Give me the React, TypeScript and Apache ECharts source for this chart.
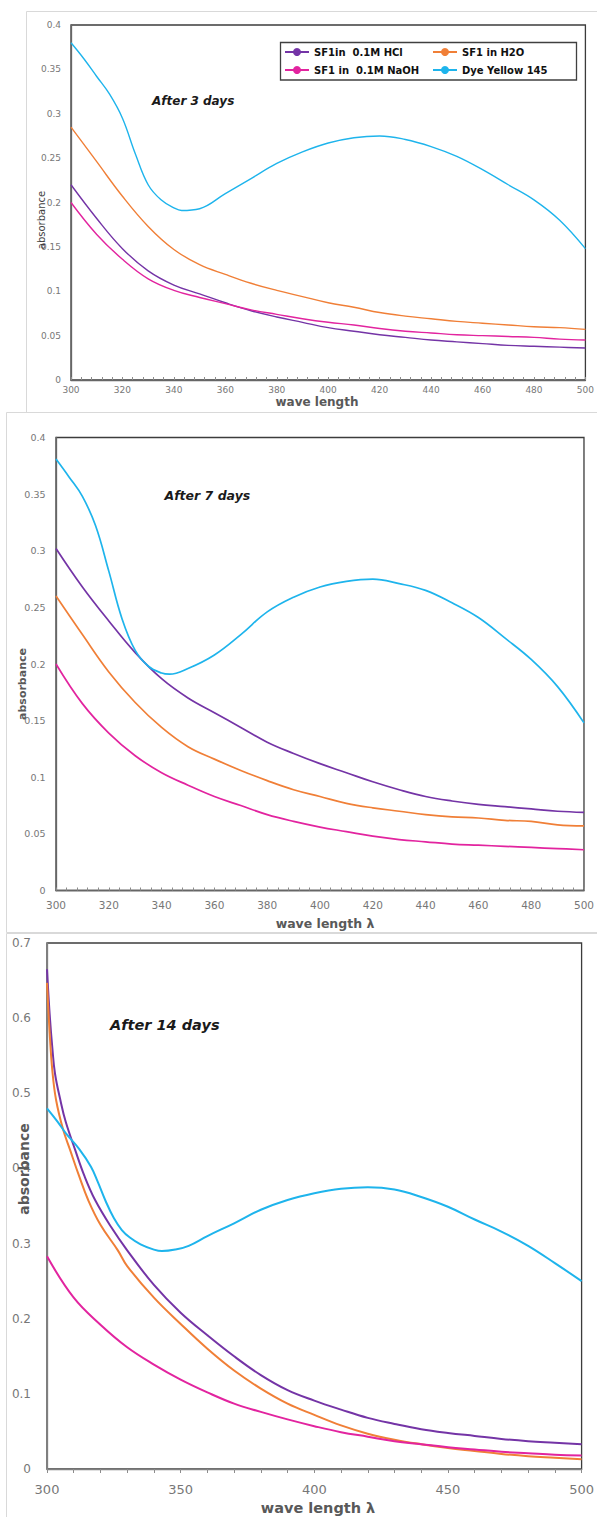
import React, { useEffect, useRef } from "react";
import * as echarts from "echarts";

// ---------- names / colours ----------
const NAMES = ["SF1in  0.1M HCl", "SF1 in H2O", "SF1 in  0.1M NaOH", "Dye Yellow 145"];
const COLORS = ["#7434A6", "#F07F37", "#E2249F", "#1EB4EC"];

// ---------- common wavelengths ----------
const WL10 = [300, 310, 320, 330, 340, 350, 360, 370, 380, 390, 400, 410, 420, 430, 440, 450, 460, 470, 480, 490, 500];
const WL_DYE = [300, 305, 310, 315, 320, 325, 330, 335, 340, 343, 350, 360, 370, 380, 390, 400, 410, 420, 430, 440, 450, 460, 470, 480, 490, 500];

// ---------- After 3 days ----------
const P1_HCL = [0.220, 0.182, 0.148, 0.123, 0.107, 0.097, 0.087, 0.078, 0.071, 0.065, 0.059, 0.055, 0.051, 0.048, 0.045, 0.043, 0.041, 0.039, 0.038, 0.037, 0.036];
const P1_H2O = [0.285, 0.246, 0.207, 0.173, 0.147, 0.130, 0.119, 0.109, 0.101, 0.094, 0.087, 0.082, 0.076, 0.072, 0.069, 0.066, 0.064, 0.062, 0.060, 0.059, 0.057];
const P1_NAOH = [0.200, 0.164, 0.136, 0.114, 0.101, 0.093, 0.086, 0.079, 0.074, 0.069, 0.065, 0.062, 0.058, 0.055, 0.053, 0.051, 0.050, 0.049, 0.048, 0.046, 0.045];
const P1_DYE = [0.380, 0.362, 0.342, 0.322, 0.295, 0.255, 0.220, 0.203, 0.194, 0.191, 0.193, 0.210, 0.227, 0.244, 0.257, 0.267, 0.273, 0.275, 0.271, 0.263, 0.252, 0.237, 0.220, 0.203, 0.180, 0.148];

// ---------- After 7 days ----------
const P2_HCL = [0.302, 0.268, 0.238, 0.210, 0.187, 0.170, 0.157, 0.144, 0.131, 0.121, 0.112, 0.104, 0.096, 0.089, 0.083, 0.079, 0.076, 0.074, 0.072, 0.070, 0.069];
const P2_H2O = [0.260, 0.226, 0.193, 0.166, 0.144, 0.127, 0.116, 0.106, 0.097, 0.089, 0.083, 0.077, 0.073, 0.070, 0.067, 0.065, 0.064, 0.062, 0.061, 0.058, 0.057];
const P2_NAOH = [0.200, 0.165, 0.139, 0.119, 0.104, 0.093, 0.083, 0.075, 0.067, 0.061, 0.056, 0.052, 0.048, 0.045, 0.043, 0.041, 0.040, 0.039, 0.038, 0.037, 0.036];
const P2_DYE = [0.381, 0.365, 0.348, 0.322, 0.282, 0.240, 0.212, 0.198, 0.192, 0.191, 0.196, 0.208, 0.226, 0.246, 0.259, 0.268, 0.273, 0.275, 0.271, 0.265, 0.254, 0.241, 0.223, 0.204, 0.180, 0.148];

// ---------- After 14 days ----------
const P3_HCL_WL = [300, 301, 302, 303, 305, 307, 310.5, 314, 318, 324, 330, 340, 350, 360, 370, 380, 390, 400, 410, 420, 430, 440, 450, 460, 470, 480, 490, 500];
const P3_HCL = [0.665, 0.605, 0.560, 0.526, 0.491, 0.462, 0.425, 0.390, 0.358, 0.322, 0.291, 0.245, 0.208, 0.178, 0.150, 0.125, 0.105, 0.091, 0.079, 0.068, 0.060, 0.053, 0.048, 0.044, 0.040, 0.037, 0.035, 0.033];
const P3_H2O_WL = [300, 301, 302, 303.4, 306, 308.6, 312, 315.4, 320, 326.5, 330, 340, 350, 360, 370, 380, 390, 400, 410, 420, 430, 440, 450, 460, 470, 480, 490, 500];
const P3_H2O = [0.647, 0.580, 0.530, 0.491, 0.452, 0.425, 0.390, 0.358, 0.325, 0.291, 0.270, 0.228, 0.193, 0.160, 0.131, 0.107, 0.087, 0.072, 0.058, 0.047, 0.039, 0.033, 0.028, 0.024, 0.020, 0.017, 0.015, 0.013];
const P3_NAOH = [0.283, 0.228, 0.192, 0.162, 0.139, 0.119, 0.102, 0.087, 0.076, 0.066, 0.057, 0.049, 0.043, 0.037, 0.033, 0.029, 0.026, 0.023, 0.021, 0.019, 0.018];
const P3_DYE_WL = [300, 304, 307, 312, 316.5, 319, 322, 325, 328, 331, 335, 340, 343, 348, 353, 360, 370, 380, 390, 400, 410, 420, 430, 440, 450, 460, 470, 480, 490, 500];
const P3_DYE = [0.480, 0.462, 0.447, 0.426, 0.402, 0.382, 0.356, 0.334, 0.318, 0.308, 0.299, 0.292, 0.290, 0.292, 0.297, 0.310, 0.327, 0.345, 0.358, 0.367, 0.373, 0.375, 0.372, 0.362, 0.349, 0.332, 0.316, 0.297, 0.274, 0.250];

// ---------- axis ticks ----------
const P1_Y_MAX = 0.4;
const P1_Y_STEP = 0.05;
const P3_Y_MAX = 0.7;
const P3_Y_STEP = 0.1;
const X_MIN = 300;
const X_MAX = 500;
const P12_X_STEP = 20;
const P3_X_STEP = 50;

const TITLES = ["After 3 days", "After 7 days", "After 14 days"];
const X_TITLES = ["wave length", "wave length λ", "wave length λ"];
const Y_TITLE = "absorbance";

const FONT = "DejaVu Sans";

function zip(xs: number[], ys: number[]) {
  return xs.map((x, i) => [x, ys[i]]);
}

export default function App() {
  const ref = useRef<HTMLDivElement>(null);

  useEffect(() => {
    document.body.style.margin = "0";
    if (!ref.current) return;
    const chart = echarts.init(ref.current, null, { renderer: "svg" });

    const panels = [
      { hcl: zip(WL10, P1_HCL), h2o: zip(WL10, P1_H2O), naoh: zip(WL10, P1_NAOH), dye: zip(WL_DYE, P1_DYE), lw: 1.4 },
      { hcl: zip(WL10, P2_HCL), h2o: zip(WL10, P2_H2O), naoh: zip(WL10, P2_NAOH), dye: zip(WL_DYE, P2_DYE), lw: 1.7 },
      { hcl: zip(P3_HCL_WL, P3_HCL), h2o: zip(P3_H2O_WL, P3_H2O), naoh: zip(WL10, P3_NAOH), dye: zip(P3_DYE_WL, P3_DYE), lw: 2 },
    ];

    const series: any[] = [];
    panels.forEach((p, i) => {
      const sets = [p.hcl, p.h2o, p.naoh, p.dye];
      sets.forEach((d, k) => {
        series.push({
          type: "line",
          name: NAMES[k],
          xAxisIndex: i,
          yAxisIndex: i,
          data: d,
          symbol: "none",
          smooth: 0.4,
          lineStyle: { color: COLORS[k], width: p.lw },
          itemStyle: { color: COLORS[k] },
          z: 3,
        });
      });
    });

    const grids = [
      { left: 71, top: 25, width: 519, height: 355 },
      { left: 56, top: 437.5, width: 535, height: 453 },
      { left: 47, top: 943, width: 541, height: 526 },
    ].map((g) => ({ ...g, show: true, borderColor: "#3c3c3c", borderWidth: 1.3, backgroundColor: "transparent" }));

    const xLabel = [
      { fontSize: 9, margin: 5 },
      { fontSize: 10.5, margin: 9 },
      { fontSize: 13, margin: 13.5 },
    ];
    const yLabel = [
      { fontSize: 9, margin: 10 },
      { fontSize: 9.5, margin: 10.5 },
      { fontSize: 12, margin: 16 },
    ];

    const xAxis = [0, 1, 2].map((i) => ({
      type: "value",
      gridIndex: i,
      min: X_MIN,
      max: X_MAX,
      interval: i === 2 ? P3_X_STEP : P12_X_STEP,
      axisLine: { show: true, lineStyle: { color: i === 2 ? "#808080" : "#666", width: 1.3 } },
      axisTick: { show: true, inside: i !== 2, length: i === 2 ? 4 : 3, lineStyle: { color: "#8c8c8c" } },
      minorTick: { show: true, splitNumber: 5, length: i === 2 ? 4 : 3, lineStyle: { color: "#8c8c8c" } },
      splitLine: { show: false },
      minorSplitLine: { show: false },
      axisLabel: {
        color: "#777",
        fontFamily: FONT,
        fontSize: xLabel[i].fontSize,
        margin: xLabel[i].margin,
      },
    }));

    const yAxis = [0, 1, 2].map((i) => ({
      type: "value",
      gridIndex: i,
      min: 0,
      max: i === 2 ? P3_Y_MAX : P1_Y_MAX,
      interval: i === 2 ? P3_Y_STEP : P1_Y_STEP,
      axisLine: { show: true, lineStyle: { color: i === 2 ? "#808080" : "#666", width: 1.3 } },
      axisTick: { show: false },
      splitLine: { show: false },
      axisLabel: {
        color: "#777",
        fontFamily: FONT,
        fontSize: yLabel[i].fontSize,
        margin: yLabel[i].margin,
      },
    }));

    const legendPos = [
      { left: 284, top: 47 },
      { left: 432, top: 47 },
      { left: 284, top: 65 },
      { left: 432, top: 65 },
    ];
    const legend = NAMES.map((n, k) => ({
      data: [n],
      left: legendPos[k].left,
      top: legendPos[k].top,
      padding: 0,
      itemWidth: 24,
      itemHeight: 10,
      selectedMode: false,
      textStyle: { fontFamily: FONT, fontWeight: "bold", fontSize: 10, color: "#111" },
    }));

    const txt = (text: string, x: number, y: number, size: number, opts: any = {}) => ({
      type: "text",
      x,
      y,
      z: 100,
      rotation: opts.rotation || 0,
      style: {
        text,
        fill: opts.fill || "#595959",
        font: `${opts.style || "normal"} ${opts.weight || "bold"} ${size}px "${FONT}"`,
        align: opts.align || "center",
        verticalAlign: "middle",
      },
    });

    const graphic: any[] = [
      // chart-area frames
      { type: "rect", z: -1, shape: { x: 26.5, y: 11.5, width: 600, height: 401 }, style: { fill: "none", stroke: "#d9d9d9", lineWidth: 1 } },
      { type: "rect", z: -1, shape: { x: 6.5, y: 412.5, width: 600, height: 520 }, style: { fill: "none", stroke: "#d9d9d9", lineWidth: 1 } },
      { type: "rect", z: -1, shape: { x: 6.5, y: 933.5, width: 600, height: 600 }, style: { fill: "none", stroke: "#d9d9d9", lineWidth: 1 } },
      // legend box
      { type: "rect", z: 50, shape: { x: 280.5, y: 42.5, width: 296, height: 37.5 }, style: { fill: "none", stroke: "#404040", lineWidth: 1.3 } },
      // panel titles
      txt(TITLES[0], 152, 101, 12, { align: "left", style: "italic", fill: "#1a1a1a" }),
      txt(TITLES[1], 164.5, 495.5, 12.5, { align: "left", style: "italic", fill: "#1a1a1a" }),
      txt(TITLES[2], 110, 1025, 14.5, { align: "left", style: "italic", fill: "#1a1a1a" }),
      // x titles
      txt(X_TITLES[0], 317, 402, 12),
      txt(X_TITLES[1], 325, 923, 12.5),
      txt(X_TITLES[2], 318, 1508, 14.5),
      // y titles
      txt(Y_TITLE, 41, 220, 10, { rotation: Math.PI / 2, weight: "normal", fill: "#404040" }),
      txt(Y_TITLE, 22, 684, 11, { rotation: Math.PI / 2 }),
      txt(Y_TITLE, 23.5, 1169, 14, { rotation: Math.PI / 2 }),
    ];

    chart.setOption({
      animation: false,
      backgroundColor: "#ffffff",
      grid: grids,
      xAxis,
      yAxis,
      legend,
      series,
      graphic,
    });

    return () => {
      chart.dispose();
    };
  }, []);

  return <div ref={ref} style={{ width: 597, height: 1517 }} />;
}
